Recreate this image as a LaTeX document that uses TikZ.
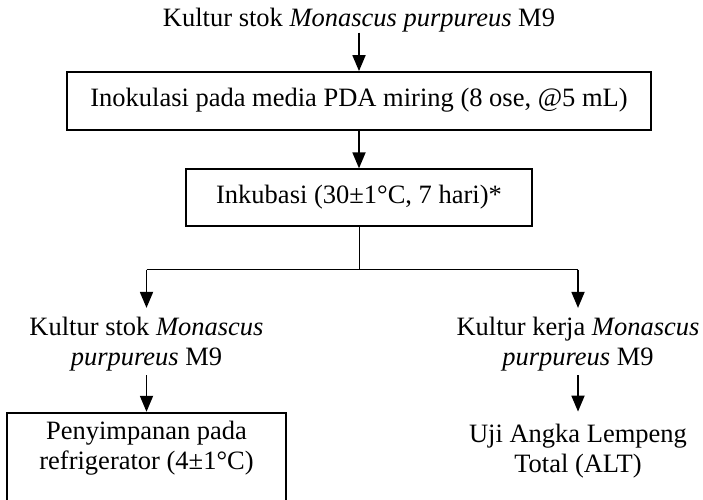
\documentclass[tikz,border=0pt]{standalone}
\usepackage{fontspec}
\setmainfont{Liberation Serif}
\usetikzlibrary{arrows.meta,positioning}
\tikzset{
  kotak/.style={draw,line width=1.8pt,inner sep=0pt},
  teks/.style={inner sep=0pt,align=center},
  panah/.style={line width=1.8pt,-{Triangle[length=16pt,width=13pt]}},
  garis/.style={line width=1pt},
}

\begin{document}
\begin{tikzpicture}[x=1pt,y=1pt,font=\fontsize{26.5}{30}\selectfont]
\def\H{499}
\useasboundingbox (0,0) rectangle (703,\H);
\clip (0,0) rectangle (703,\H);
% ---- 上部：菌种 -> 接种 -> 培养 ----
\node[teks,anchor=base] (stok) at (359,{\H-26.7}) {Kultur stok \textit{Monascus purpureus} M9};
\node[kotak,minimum width=584pt,minimum height=58pt,text height=18pt,text depth=6pt]
  (inokulasi) at (359,{\H-101}) {Inokulasi pada media PDA miring (8 ose, @5 mL)};
\node[kotak,minimum width=346pt,minimum height=56.7pt,text height=18pt,text depth=6pt]
  (inkubasi) at (359,{\H-197.6}) {Inkubasi (30±1°C, 7 hari)*};
\draw[panah] (stok) -- (inokulasi);
\draw[panah] (inokulasi) -- (inkubasi);
% ---- 分支 ----
\coordinate (cabang) at (359,{\H-269.5});
\coordinate (kiri) at (146.5,{\H-269.5});
\coordinate (kanan) at (578,{\H-269.5});
\draw[garis] (inkubasi) -- (cabang);
\draw[garis] (kiri) -- (kanan);
% ---- 左：储存；右：ALT ----
\node[teks,anchor=north] (stokkiri) at (146.5,{\H-316.9}) {Kultur stok \textit{Monascus}\\\textit{purpureus} M9};
\node[teks,anchor=north] (kerja) at (578,{\H-316.9}) {Kultur kerja \textit{Monascus}\\\textit{purpureus} M9};
\node[kotak,minimum width=278.4pt,minimum height=110pt,anchor=north] (simpan) at (146.5,{\H-411.8}) {};
\node[teks,below=9pt of simpan.north] (simpanteks) {Penyimpanan pada\\refrigerator (4±1°C)};
\node[teks,anchor=north] (alt) at (578,{\H-423.6}) {Uji Angka Lempeng\\Total (ALT)};
\draw[panah,shorten >=9pt] (kiri) -- (stokkiri);
\draw[panah,shorten >=9pt] (kanan) -- (kerja);
\draw[panah,shorten <=4pt] (stokkiri) -- (simpan);
\draw[panah,shorten <=4pt,shorten >=12pt] (kerja) -- (alt);
\end{tikzpicture}
\end{document}
